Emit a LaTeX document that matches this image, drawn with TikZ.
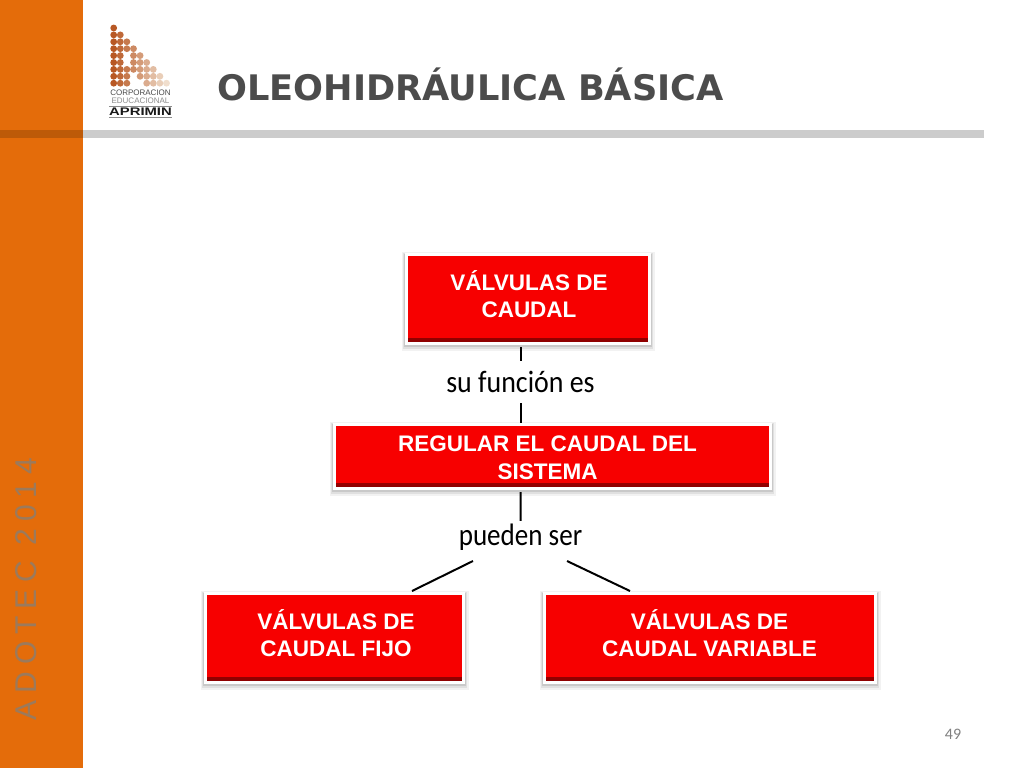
\documentclass[tikz,border=0pt]{standalone}
\usepackage{fontspec}
\setmainfont{Liberation Sans}
\newfontfamily\titlefont{DejaVu Sans}
\newfontfamily\notefont{Carlito}
\newfontfamily\bandfont[LetterSpace=23]{Liberation Sans}
\usetikzlibrary{calc}
\definecolor{sidebar}{RGB}{228,108,10}
\definecolor{bandtext}{RGB}{155,122,92}
\definecolor{boxred}{RGB}{247,0,0}
\definecolor{boxdark}{RGB}{140,0,0}
\definecolor{logodark}{RGB}{184,88,36}
\definecolor{logolight}{RGB}{242,228,212}
\tikzset{
    redbox/.style={draw=white, line width=3pt, fill=boxred, inner sep=0pt,
        preaction={draw=black, opacity=0.05, line width=10pt, transform canvas={yshift=-2.5pt}},
        preaction={draw=black, opacity=0.07, line width=7pt, transform canvas={yshift=-2pt}},
        preaction={draw=black, opacity=0.10, line width=4.5pt, transform canvas={yshift=-1.5pt}},
        path picture={\shade[top color=boxred, bottom color=boxdark]
            ([yshift=1.5pt]path picture bounding box.south west) rectangle
            ([yshift=5.5pt]path picture bounding box.south east);}},
    boxtext/.style={text=white, align=center, inner sep=0pt,
        font=\bfseries\fontsize{22.5}{27.6}\selectfont},
    linktext/.style={font=\notefont\fontsize{31}{32}\selectfont, inner sep=0pt, xscale=0.9},
    link/.style={draw=black, line width=2pt},
    logotext/.style={inner sep=0pt, font=\fontsize{8}{8}\selectfont}
}
\begin{document}
\begin{tikzpicture}[x=1pt, y=-1pt]
    \useasboundingbox (0,0) rectangle (1024,768);
    \fill[white] (0,0) rectangle (1024,768);

    % Side band and title rule
    \fill[sidebar] (0,0) rectangle (83,768);
    \fill[black!17!sidebar] (0,130) rectangle (83,138);
    \fill[black!20] (83,130) rectangle (984,138);
    \node[rotate=90, text=bandtext, font=\bandfont\fontsize{30}{30}\selectfont, inner sep=0pt] (band) at (26.5,589) {ADOTEC 2014};

    % Logo
    \foreach \row/\cols in {0/{0}, 1/{0,1}, 2/{0,1,2}, 3/{0,1,2,3}, 4/{0,1,3,4}, 5/{0,1,3,4,5},
        6/{0,1,2,3,4,5,6}, 7/{0,1,2,4,5,6,7}, 8/{0,1,2,5,6,7,8}} {
        \foreach \col in \cols {
            \pgfmathtruncatemacro{\mix}{100-12*\col}
            \fill[logodark!\mix!logolight] ({113.7+6.6*\col},{28+6.9*\row}) circle (3.4);
        }
    }
    \node[logotext, text=black!70] (logoa) at (140.5,93) {CORPORACION};
    \node[logotext, text=black!45] (logob) at (140.5,101) {EDUCACIONAL};
    \node[logotext, text=black!90, font=\bfseries\fontsize{11}{11}\selectfont, xscale=1.35] (logoc) at (140.5,112) {APRIMIN};
    \draw[black!45, line width=0.6pt] (109,106) -- (172,106);
    \draw[black!45, line width=0.6pt] (109,117) -- (172,117);

    \node[font=\titlefont\bfseries\fontsize{35.2}{36}\selectfont, text=black!70, inner sep=0pt, anchor=base] (title) at (470.5,100) {OLEOHIDRÁULICA BÁSICA};

    % Boxes
    \node[redbox, minimum width=243pt, minimum height=89pt] (caudal) at (528,299) {};
    \node[redbox, minimum width=436pt, minimum height=64pt] (regular) at (552.5,456.5) {};
    \node[redbox, minimum width=258pt, minimum height=89pt] (fijo) at (334.5,638) {};
    \node[redbox, minimum width=331pt, minimum height=89pt] (variable) at (710,638) {};

    % Box texts
    \node[boxtext] (caudaltext) at (529,294) {VÁLVULAS DE\\CAUDAL};
    \node[boxtext] (regulartext) at (547.5,458) {REGULAR EL CAUDAL DEL\\SISTEMA};
    \node[boxtext] (fijotext) at (336,633) {VÁLVULAS DE\\CAUDAL FIJO};
    \node[boxtext] (variabletext) at (709.5,633) {VÁLVULAS DE\\CAUDAL VARIABLE};

    % Link labels
    \node[linktext, minimum width=150pt, minimum height=42pt] (funcion) at (520.5,382) {su función es};
    \node[linktext, xscale=0.97, minimum width=125pt, minimum height=32pt] (pueden) at (520.5,537) {pueden ser};

    % Connectors
    \coordinate (fijotop) at (412,591);
    \coordinate (variabletop) at (630,591);
    \coordinate (puedenleft) at (473,561);
    \coordinate (puedenright) at (567,561);
    \draw[link, shorten <=2pt] (caudal.south -| funcion) -- (funcion);
    \draw[link] (funcion) -- (regular.north -| funcion);
    \draw[link, shorten <=2pt] (regular.south -| pueden) -- (pueden);
    \draw[link] (puedenleft) -- (fijotop);
    \draw[link] (puedenright) -- (variabletop);

    \node[font=\notefont\fontsize{16}{16}\selectfont, text=gray, inner sep=0pt] (page) at (953,734) {49};
\end{tikzpicture}
\end{document}
